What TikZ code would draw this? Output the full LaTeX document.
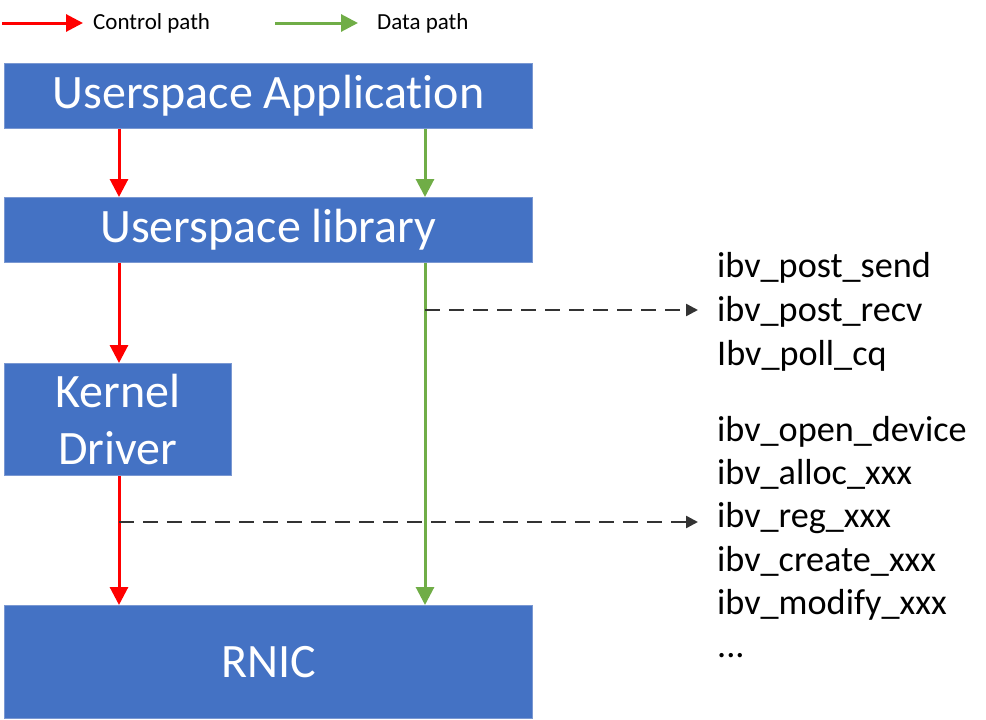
\documentclass[tikz,border=0pt]{standalone}
\usepackage{fontspec}
\setmainfont{Carlito}[RawFeature={-liga}]
\usetikzlibrary{arrows.meta}
\definecolor{boxblue}{HTML}{4472C4}
\definecolor{boxedge}{HTML}{7A98D2}
\definecolor{ctrlred}{HTML}{FF0000}
\definecolor{datagreen}{HTML}{70AD47}
\definecolor{dashgray}{HTML}{333333}
\begin{document}
\begin{tikzpicture}[x=1pt,y=-1pt,
  box/.style={fill=boxblue, draw=boxedge, line width=0.8pt, anchor=north west, inner sep=0pt,
    text=white, font=\fontsize{48}{57}\selectfont, align=center},
  ctrl/.style={draw=ctrlred, line width=3pt, -{Triangle[width=18pt,length=18pt]}},
  data/.style={draw=datagreen, line width=3pt, -{Triangle[width=18pt,length=18pt]}},
  legctrl/.style={draw=ctrlred, line width=3pt, -{Triangle[width=17pt,length=17pt]}},
  legdata/.style={draw=datagreen, line width=3pt, -{Triangle[width=17pt,length=17pt]}},
  callout/.style={draw=dashgray, line width=2.5pt, dash pattern=on 15pt off 9pt, -{Triangle[width=12pt,length=12pt]}},
  legtext/.style={anchor=base west, inner sep=0pt, font=\fontsize{23}{27}\selectfont},
  apitext/.style={anchor=base west, inner sep=0pt, font=\fontsize{36.2}{42}\selectfont}
]
\useasboundingbox (0,0) rectangle (986,720);

% legend
\coordinate (lcs) at (2,23);
\node[legtext] (lc) at (93,30) {Control path};
\draw[legctrl] (lcs) -- ([xshift=-10pt]lcs -| lc.west);
\coordinate (lds) at (275,23);
\node[legtext] (ld) at (377,30) {Data path};
\draw[legdata] (lds) -- ([xshift=-19pt]lds -| ld.west);

% boxes
\node[box, minimum width=528pt, minimum height=65pt] (app) at (4,63) {Userspace Application};
\node[box, minimum width=528pt, minimum height=65pt] (lib) at (4,197) {Userspace library};
\node[box, minimum width=227pt, minimum height=112pt] (kd) at (4,363) {Kernel\\Driver};
\node[box, minimum width=528pt, minimum height=113pt] (rnic) at (4,605) {RNIC};

% path columns
\coordinate (rx) at (119,0);
\coordinate (gx) at (425,0);

\draw[ctrl] (app.south -| rx) -- (lib.north -| rx);
\draw[ctrl] (lib.south -| rx) -- (kd.north -| rx);
\draw[ctrl] (kd.south -| rx) -- (rnic.north -| rx);
\draw[data] (app.south -| gx) -- (lib.north -| gx);
\draw[data] (lib.south -| gx) -- (rnic.north -| gx);

% API lists
\node[apitext] (a1) at (717,277) {ibv\_post\_send};
\node[apitext] (a2) at (717,321) {ibv\_post\_recv};
\node[apitext] (a3) at (717,365) {Ibv\_poll\_cq};
\node[apitext] (b1) at (717,441) {ibv\_open\_device};
\node[apitext] (b2) at (717,484) {ibv\_alloc\_xxx};
\node[apitext] (b3) at (717,527) {ibv\_reg\_xxx};
\node[apitext] (b4) at (717,571) {ibv\_create\_xxx};
\node[apitext] (b5) at (717,614) {ibv\_modify\_xxx};
\node[apitext] (b6) at (717,657) {...};

% callouts
\coordinate (c1) at (425,310);
\draw[callout] (c1) -- ([xshift=-19pt]c1 -| a2.west);
\coordinate (c2) at (119,522);
\draw[callout] (c2) -- ([xshift=-19pt]c2 -| b3.west);
\end{tikzpicture}
\end{document}
